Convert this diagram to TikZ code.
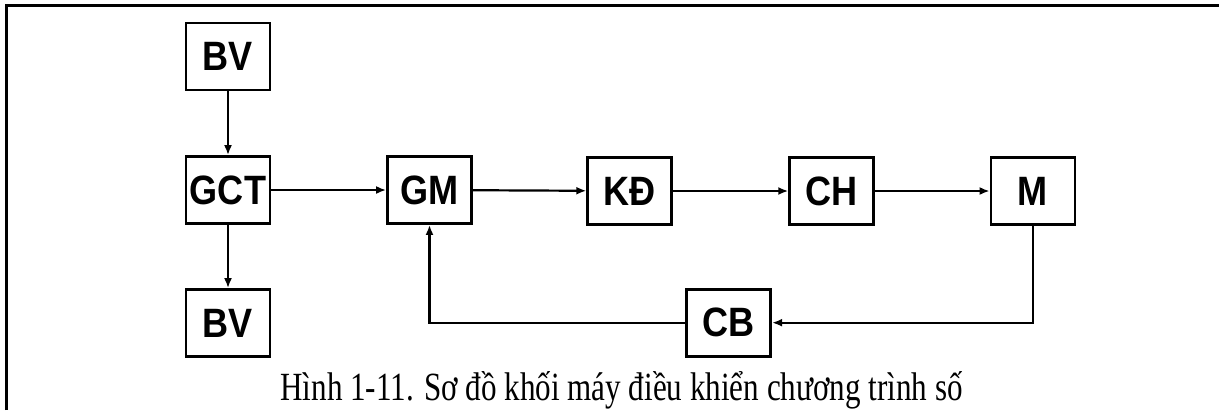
\documentclass[tikz,border=0pt]{standalone}
\usepackage{fontspec}
\setmainfont{Liberation Serif}
\setsansfont{Liberation Sans}
\usetikzlibrary{arrows.meta}
\newcommand{\bt}[1]{\scalebox{0.88}[1]{#1}}
\tikzset{
  blk/.style={draw, line width=2.8pt, minimum width=84pt, minimum height=67pt, inner sep=0pt,
    font=\sffamily\bfseries\fontsize{41}{41}\selectfont},
  arr/.style={line width=2.2pt, -{Latex[length=10pt,width=8pt]}},
  frame/.style={line width=3.5pt}
}
\begin{document}
\begin{tikzpicture}[x=1pt,y=-1pt]
\useasboundingbox (0,0) rectangle (1219,410);
\draw[frame] (6.5,410) -- (6.5,5.5) -- (1219,5.5);
\node[blk] (bv1) at (228,56.5) {\bt{BV}};
\node[blk] (gct) at (228,190) {\bt{GCT}};
\node[blk] (bv2) at (228,323) {\bt{BV}};
\node[blk] (gm) at (429.5,190) {\bt{GM}};
\node[blk] (kd) at (629.7,191) {\bt{KĐ}};
\node[blk] (ch) at (831.7,191) {\bt{CH}};
\node[blk] (m) at (1033,191) {\bt{M}};
\node[blk] (cb) at (728.7,322.7) {\bt{CB}};
\draw[arr] (bv1) -- (gct);
\draw[arr] (gct) -- (bv2);
\draw[arr] (gct) -- (gm);
\draw[arr] (gm) -- (kd);
\draw[arr] (kd) -- (ch);
\draw[arr] (ch) -- (m);
\draw[arr] (m.south) |- (cb.east);
\draw[arr] (cb.west) -| (gm.south);
\node[anchor=base, inner sep=0pt, font=\fontsize{40}{40}\selectfont] (cap) at (621.5,400) {\scalebox{0.777}[1]{Hình 1-11. Sơ đồ khối máy điều khiển chương trình số}};
\end{tikzpicture}
\end{document}
